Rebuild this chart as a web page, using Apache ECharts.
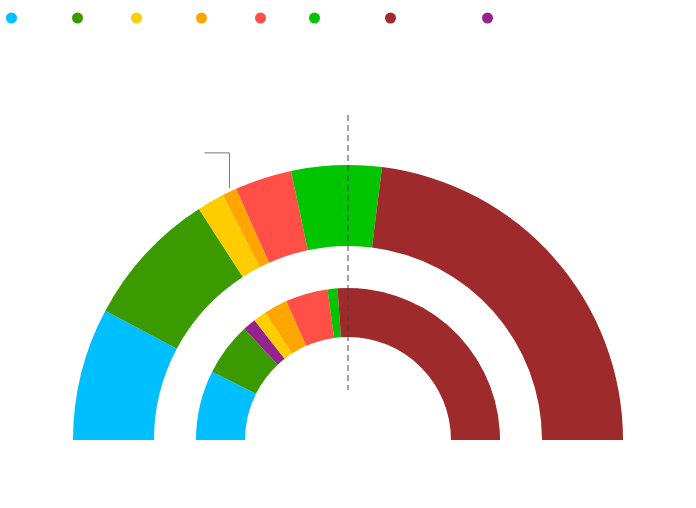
<!DOCTYPE html>
<html>
<head>
<meta charset="utf-8">
<script src="https://cdn.jsdelivr.net/npm/echarts@6/dist/echarts.min.js"></script>
<style>html,body{margin:0;padding:0;background:#fff}#c{width:696px;height:508px}</style>
</head>
<body>
<div id="c"></div>
<script>
// Parties (legend order)
var parties = ['Party A', 'Party B', 'Party C', 'Party D', 'Party E', 'Party F', 'Party G', 'Party H'];
var colors = ['#00BFFF', '#3A9A00', '#FFCC00', '#FFA500', '#FF4F46', '#00C500', '#9E2A2B', '#94238F'];
// Outer ring shares (%)
var outerParties = ['Party A', 'Party B', 'Party C', 'Party D', 'Party E', 'Party F', 'Party G'];
var outerValues = [15.6, 16.2, 3.2, 1.7, 6.7, 10.6, 46.1];
// Inner ring shares (%)
var innerParties = ['Party A', 'Party B', 'Party H', 'Party C', 'Party D', 'Party E', 'Party F', 'Party G'];
var innerValues = [14.8, 11.3, 2.8, 2.8, 5.0, 9.0, 2.1, 52.2];
// party whose slice carries the callout line
var calloutParty = 'Party D';

// left offsets (px) of each legend entry
var legendLefts = [1, 67, 126, 191, 250, 304, 380, 477];
var colorOf = {};
parties.forEach(function (p, i) { colorOf[p] = colors[i]; });

var CX = 348, CY = 440;

function ring(names, values, radius, withCallout) {
  return {
    type: 'pie',
    center: [CX, CY],
    radius: radius,
    startAngle: 180,
    endAngle: 0,
    clockwise: true,
    avoidLabelOverlap: false,
    silent: true,
    animation: false,
    label: { show: false },
    labelLine: { show: false },
    data: names.map(function (n, i) {
      var item = { name: n, value: values[i], itemStyle: { color: colorOf[n] } };
      if (withCallout && n === calloutParty) {
        item.label = { show: true, position: 'outside', color: 'transparent', formatter: '{b}' };
        item.labelLine = { show: true, length: 20, length2: 20, lineStyle: { color: '#777', width: 1 } };
      }
      return item;
    }),
    labelLayout: withCallout ? function (params) {
      var pts = params.labelLinePoints;
      if (!pts) return {};
      var p0 = pts[0];
      return {
        labelLinePoints: [[p0[0], p0[1] - 4], [p0[0], p0[1] - 39], [p0[0] - 25, p0[1] - 39]]
      };
    } : null
  };
}

var legends = parties.map(function (p, i) {
  return {
    left: legendLefts[i],
    top: 7,
    icon: 'circle',
    itemWidth: 11,
    itemHeight: 11,
    selectedMode: false,
    textStyle: { color: 'transparent', fontSize: 12 },
    data: [p]
  };
});

var chart = echarts.init(document.getElementById('c'), null, { renderer: 'canvas' });
chart.setOption({
  animation: false,
  legend: legends,
  graphic: [{
    type: 'line',
    silent: true,
    shape: { x1: CX, y1: 115, x2: CX, y2: 390 },
    style: { stroke: '#444', lineWidth: 1, lineDash: [6, 4] },
    z: 100
  }],
  series: [
    ring(outerParties, outerValues, [194, 275], true),
    ring(innerParties, innerValues, [103, 152], false)
  ]
});
</script>
</body>
</html>
